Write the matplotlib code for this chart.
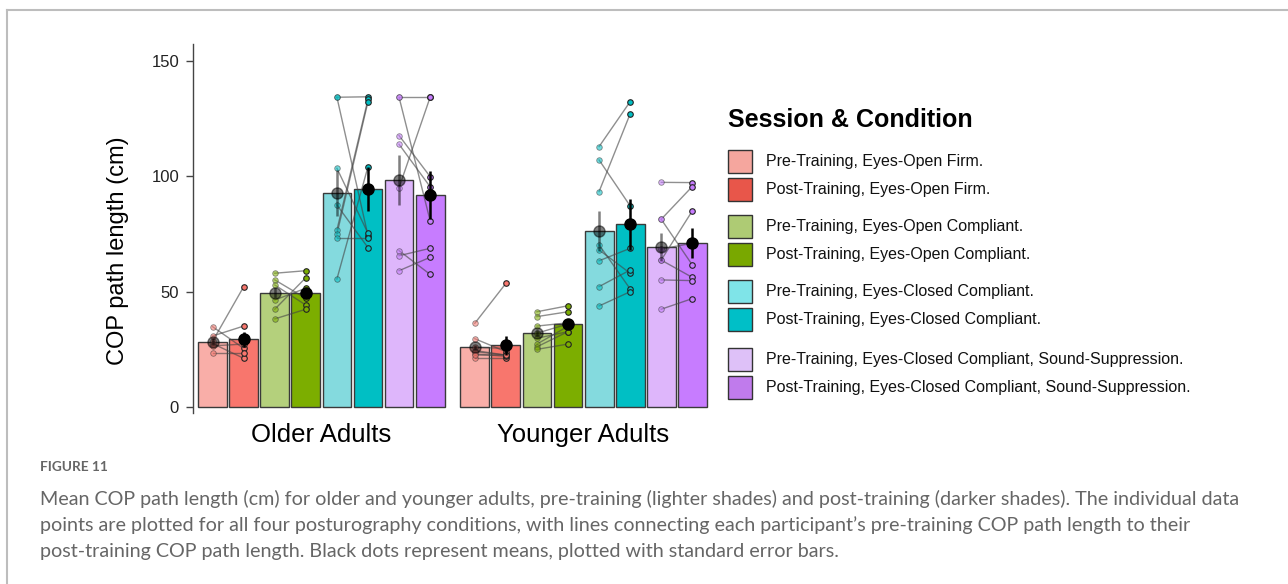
import numpy as np
import matplotlib
matplotlib.use("Agg")
import matplotlib.pyplot as plt
from matplotlib.patches import Rectangle
from matplotlib.lines import Line2D

plt.rcParams['font.family'] = ['Liberation Sans', 'DejaVu Sans']

# ---- data ----
groups = ["Older Adults", "Younger Adults"]

legend_labels = [
    "Pre-Training, Eyes-Open Firm.",
    "Post-Training, Eyes-Open Firm.",
    "Pre-Training, Eyes-Open Compliant.",
    "Post-Training, Eyes-Open Compliant.",
    "Pre-Training, Eyes-Closed Compliant.",
    "Post-Training, Eyes-Closed Compliant.",
    "Pre-Training, Eyes-Closed Compliant, Sound-Suppression.",
    "Post-Training, Eyes-Closed Compliant, Sound-Suppression.",
]

older_means = [28.3, 29.4, 49.6, 49.3, 92.7, 94.5, 98.4, 91.9]
older_se = [1.5, 3.2, 2.0, 2.0, 10.0, 9.7, 10.7, 10.4]
younger_means = [25.9, 26.7, 32.1, 36.0, 76.3, 79.2, 69.2, 71.2]
younger_se = [1.2, 4.0, 1.5, 1.8, 8.8, 11.0, 6.1, 6.6]

# individual participants, pre -> post (same order = same participant)
older_firm_pre = [34.8, 28.6, 30.8, 27.5, 26.5, 23.3]
older_firm_post = [25.4, 52.2, 35.1, 21.1, 27.3, 23.3]
older_compl_pre = [58.0, 55.1, 52.9, 46.4, 42.4, 38.2]
older_compl_post = [59.1, 47.1, 44.2, 51.5, 56.1, 42.4]
older_closed_pre = [134.3, 134.3, 103.5, 87.6, 76.8, 75.0, 73.1, 55.5]
older_closed_post = [134.5, 74.3, 75.3, 69.1, 133.4, 132.4, 73.1, 104.2]
older_sound_pre = [134.3, 134.3, 117.7, 113.9, 95.1, 67.8, 65.6, 59.1]
older_sound_post = [134.3, 80.8, 99.9, 95.5, 134.3, 57.5, 68.8, 64.9]

younger_firm_pre = [36.3, 29.6, 25.9, 24.5, 21.1, 23.0, 24.0, 22.5]
younger_firm_post = [53.6, 24.0, 25.4, 22.5, 21.1, 22.0, 22.5, 22.6]
younger_compl_pre = [41.3, 39.2, 35.1, 29.8, 27.3, 26.1, 25.0, 32.0]
younger_compl_post = [43.9, 41.3, 36.5, 32.7, 35.0, 32.7, 27.3, 36.0]
younger_closed_pre = [112.9, 93.4, 107.1, 70.3, 68.1, 63.4, 52.2, 43.8]
younger_closed_post = [132.4, 127.1, 87.2, 51.2, 58.0, 68.8, 59.4, 50.0]
younger_sound_pre = [97.4, 81.4, 81.4, 63.7, 63.7, 55.1, 42.4, 68.5]
younger_sound_post = [97.3, 95.6, 61.6, 85.0, 56.2, 54.8, 47.0, 71.0]

caption_title = "FIGURE 11"
caption_lines = [
    "Mean COP path length (cm) for older and younger adults, pre-training (lighter shades) and post-training (darker shades). The individual data",
    "points are plotted for all four posturography conditions, with lines connecting each participant\u2019s pre-training COP path length to their",
    "post-training COP path length. Black dots represent means, plotted with standard error bars.",
]

# ---- styling ----
bar_colors = ["#F9AEA8", "#F8766D", "#B4D07C", "#7CAE00",
              "#84DADE", "#00BFC4", "#DEB6FB", "#C77CFF"]
legend_colors = ["#F5A69E", "#E8564A", "#AECB74", "#79A800",
                 "#7FE4E8", "#00BFC7", "#DEC1F8", "#C07BEC"]

means = [older_means, younger_means]
ses = [older_se, younger_se]
pairs = [
    [(older_firm_pre, older_firm_post), (older_compl_pre, older_compl_post),
     (older_closed_pre, older_closed_post), (older_sound_pre, older_sound_post)],
    [(younger_firm_pre, younger_firm_post), (younger_compl_pre, younger_compl_post),
     (younger_closed_pre, younger_closed_post), (younger_sound_pre, younger_sound_post)],
]

step = 0.1185
width = 0.11

fig = plt.figure(figsize=(12.88, 5.84), dpi=100)
ax = fig.add_axes([0.1498, 0.2928, 0.4030, 0.6319])

for g in range(2):
    xs = [g + (i - 3.5) * step for i in range(8)]
    ax.bar(xs, means[g], width=width, color=bar_colors, edgecolor="#3a3a3a",
           linewidth=1.0, zorder=1)
    # participant lines and points
    for c, (pre, post) in enumerate(pairs[g]):
        x_pre, x_post = xs[2 * c], xs[2 * c + 1]
        col = bar_colors[2 * c + 1]
        for a, b in zip(pre, post):
            ax.plot([x_pre, x_post], [a, b], color="#444444", alpha=0.6, lw=1.0, zorder=2)
        ax.plot([x_pre] * len(pre), pre, 'o', ms=4, mfc=col, mec="#333333",
                mew=0.6, alpha=0.55, zorder=3, linestyle='none')
        ax.plot([x_post] * len(post), post, 'o', ms=4, mfc=col, mec="#222222",
                mew=0.8, zorder=3, linestyle='none')
    # means with standard error
    for i in range(8):
        if i % 2 == 0:
            ax.errorbar(xs[i], means[g][i], yerr=ses[g][i], fmt='o', ms=8,
                        color="black", elinewidth=1.8, alpha=0.5, zorder=4)
        else:
            ax.errorbar(xs[i], means[g][i], yerr=ses[g][i], fmt='o', ms=8,
                        color="black", elinewidth=1.8, zorder=5)

ax.set_xlim(-0.49, 1.49)
ax.set_ylim(-2.6, 157.4)
ax.set_yticks([0, 50, 100, 150])
ax.set_xticks([0, 1])
ax.set_xticklabels(groups, fontsize=18.5)
ax.tick_params(axis='x', length=0, pad=7, colors="black")
ax.tick_params(axis='y', length=5, width=1, color="#444444", labelsize=12,
               pad=5, labelcolor="#222222")
for s in ["top", "right", "bottom"]:
    ax.spines[s].set_visible(False)
ax.spines["left"].set_color("#444444")
ax.spines["left"].set_linewidth(1.0)

W, H = 1288.0, 584.0
fig.text(118 / W, 1 - 251 / H, "COP path length (cm)", rotation=90,
         fontsize=17, ha="center", va="center")

# legend
fig.text(728 / W, 1 - 120 / H, "Session & Condition", fontsize=18,
         fontweight="bold", ha="left", va="center")
legend_y = [161.7, 189.3, 226.0, 254.0, 291.7, 319.3, 359.3, 387.3]
for lab, col, yc in zip(legend_labels, legend_colors, legend_y):
    fig.add_artist(Rectangle(((727.5) / W, 1 - (yc + 11.5) / H), 24 / W, 23 / H,
                             facecolor=col, edgecolor="#333333", lw=1.0,
                             transform=fig.transFigure))
    fig.text(766 / W, 1 - yc / H, lab, fontsize=11.5, ha="left", va="center",
             color="#111111")

# frame lines
fig.add_artist(Line2D([7 / W, 1], [1 - 10 / H, 1 - 10 / H], color="#bdbdbd",
                      lw=1.5, transform=fig.transFigure))
fig.add_artist(Line2D([7 / W, 7 / W], [0, 1 - 10 / H], color="#bdbdbd",
                      lw=1.5, transform=fig.transFigure))

# caption
fig.text(40 / W, 1 - 467 / H, caption_title, fontsize=9.8, color="#666666",
         fontweight="bold", ha="left", va="center", family="Lato")
for k, line in enumerate(caption_lines):
    fig.text(40 / W, 1 - (499 + 26.5 * k) / H, line, fontsize=14.2,
             color="#666666", ha="left", va="center", family="Lato")

fig.savefig("out.png", dpi=100)
